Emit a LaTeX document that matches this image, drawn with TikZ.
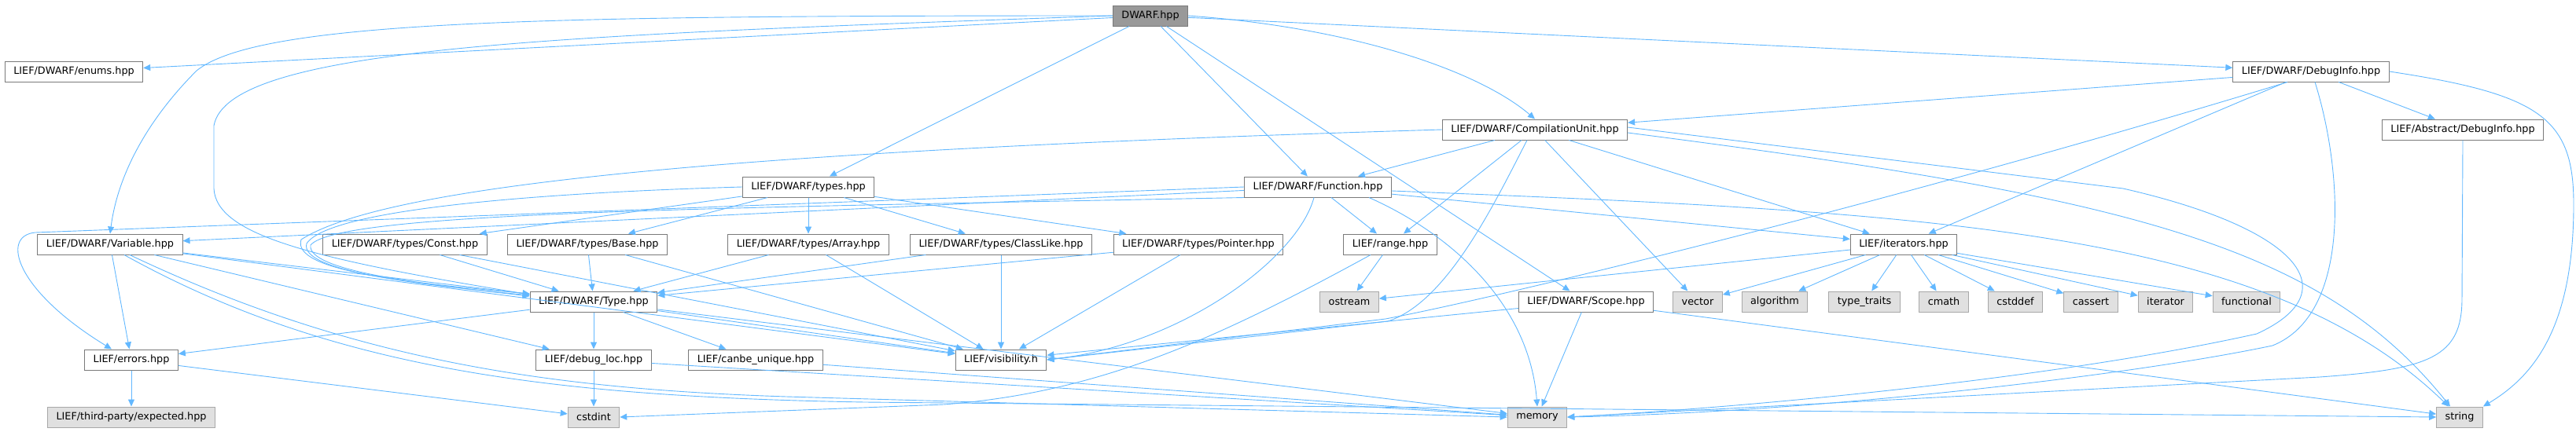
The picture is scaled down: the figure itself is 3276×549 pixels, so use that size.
\documentclass[tikz,border=0pt]{standalone}
\usepackage{fontspec}
\setmainfont{DejaVu Sans}
\usepackage{xcolor}
\usetikzlibrary{arrows.meta,positioning}
\definecolor{edgeblue}{HTML}{63B8FF}
\definecolor{nodeline}{HTML}{7A7A7A}
\definecolor{sysline}{HTML}{A8A8A8}
\definecolor{sysfill}{HTML}{E0E0E0}
\definecolor{rootfill}{HTML}{999999}

\begin{document}
\begin{tikzpicture}[
    x=1pt, y=-1pt,
    % LIEF headers
    file/.style={rectangle, draw=nodeline, fill=white, line width=1pt, minimum height=26pt, inner xsep=11pt, inner ysep=0pt, font=\fontsize{12.8}{15}\selectfont},
    % the documented file
    mainfile/.style={file, fill=rootfill},
    % standard library headers
    sys/.style={file, draw=sysline, fill=sysfill},
    % include edges
    dep/.style={->, >={Triangle[length=9pt,width=8pt]}, draw=edgeblue, line width=0.9pt}
]
\useasboundingbox (0,0) rectangle (3276,549);

% Top level
\node[mainfile] (root) at (1463,20) {DWARF.hpp};
\node[file] (enums) at (94,91) {LIEF/DWARF/enums.hpp};
\node[file] (dbginfo) at (2939,91) {LIEF/DWARF/DebugInfo.hpp};
\node[file] (cu) at (1952,165) {LIEF/DWARF/CompilationUnit.hpp};
\node[file] (absdbg) at (3132,165) {LIEF/Abstract/DebugInfo.hpp};
\node[file] (types) at (1028,238) {LIEF/DWARF/types.hpp};
\node[file] (func) at (1676,238) {LIEF/DWARF/Function.hpp};

% Middle row
\node[file] (var) at (140,311) {LIEF/DWARF/Variable.hpp};
\node[file] (tconst) at (515,311) {LIEF/DWARF/types/Const.hpp};
\node[file] (tbase) at (747,311) {LIEF/DWARF/types/Base.hpp};
\node[file] (tarray) at (1028,311) {LIEF/DWARF/types/Array.hpp};
\node[file] (tclass) at (1273,311) {LIEF/DWARF/types/ClassLike.hpp};
\node[file] (tptr) at (1524,311) {LIEF/DWARF/types/Pointer.hpp};
\node[file] (range) at (1768,311) {LIEF/range.hpp};
\node[file] (iters) at (2421,311) {LIEF/iterators.hpp};

\node[file] (type) at (755,384) {LIEF/DWARF/Type.hpp};
\node[sys] (ostream) at (1716,384) {ostream};
\node[file] (scope) at (2017,384) {LIEF/DWARF/Scope.hpp};
\node[sys] (vector) at (2159,384) {vector};
\node[sys] (algorithm) at (2257,384) {algorithm};
\node[sys] (typetraits) at (2371,384) {type\_traits};
\node[sys] (cmath) at (2472,384) {cmath};
\node[sys] (cstddef) at (2563,384) {cstddef};
\node[sys] (cassert) at (2659,384) {cassert};
\node[sys] (iterator) at (2754,384) {iterator};
\node[sys] (functional) at (2857,384) {functional};

% Bottom rows
\node[file] (errors) at (167,458) {LIEF/errors.hpp};
\node[file] (debugloc) at (755,458) {LIEF/debug\_loc.hpp};
\node[file] (canbe) at (961,458) {LIEF/canbe\_unique.hpp};
\node[file] (vis) at (1273,458) {LIEF/visibility.h};
\node[sys] (expected) at (167,531) {LIEF/third-party/expected.hpp};
\node[sys] (cstdint) at (755,531) {cstdint};
\node[sys] (memory) at (1955,531) {memory};
\node[sys] (string) at (3128,531) {string};

% DWARF.hpp
\draw[dep] (root) -- (enums);
\draw[dep] (root.west) .. controls (700,20) and (330,25) .. (250,90) .. controls (190,150) and (150,220) .. (var.north);
\draw[dep] (root.west) .. controls (700,45) and (290,60) .. (272,160) -- (272,240) .. controls (275,300) and (400,330) .. ([yshift=9pt]type.west);
\draw[dep] (root) -- (types);
\draw[dep] (root) -- (func);
\draw[dep] (root) -- (scope);
\draw[dep] (root.east) .. controls (1720,35) and (1880,90) .. (cu.north);
\draw[dep] (root) -- (dbginfo);

% DebugInfo.hpp
\draw[dep] (dbginfo) -- (cu);
\draw[dep] (dbginfo) -- (absdbg);
\draw[dep] (dbginfo) -- (iters);
\draw[dep] ([xshift=-30pt]dbginfo.south) .. controls (2400,260) and (1900,380) .. (1762,406) -- (vis.east);
\draw[dep] ([xshift=5pt]dbginfo.south) .. controls (2980,220) and (2990,400) .. (2890,440) .. controls (2700,480) and (2300,525) .. (memory.east);
\draw[dep] (dbginfo.east) .. controls (3230,120) and (3273,150) .. (3273,260) .. controls (3273,420) and (3220,480) .. (string.north east);
\draw[dep] (absdbg.south) -- (3131,380) .. controls (3131,455) and (3090,470) .. (2950,480) -- (memory.east);

% CompilationUnit.hpp
\draw[dep] (cu) -- (func);
\draw[dep] (cu.west) .. controls (1000,190) and (500,230) .. (383,305) .. controls (370,345) and (520,360) .. ([yshift=10pt]type.west);
\draw[dep] (cu) -- (range);
\draw[dep] ([xshift=-10pt]cu.south) .. controls (1900,260) and (1840,385) .. (1765,409) -- (vis.east);
\draw[dep] (cu) -- (vector);
\draw[dep] (cu) -- (iters);
\draw[dep] ([yshift=3pt]cu.east) -- (2700,240) .. controls (2920,290) and (2990,370) .. (2870,425) .. controls (2600,485) and (2200,520) .. (memory.east);
\draw[dep] ([yshift=-4pt]cu.east) .. controls (2700,250) and (2950,310) .. ([xshift=-12pt]string.north);

% Function.hpp
\draw[dep] (func) -- (var);
\draw[dep] (func.west) -- (45,296) .. controls (0,300) and (20,370) .. ([xshift=-25pt]errors.north);
\draw[dep] (func.south west) .. controls (900,265) and (430,270) .. (395,312) .. controls (390,345) and (540,362) .. ([yshift=7pt]type.west);
\draw[dep] (func) -- (range);
\draw[dep] (func) -- (iters);
\draw[dep] ([xshift=-5pt]func.south) .. controls (1650,330) and (1500,440) .. (vis.east);
\draw[dep] ([xshift=65pt]func.south) .. controls (1850,300) and (1945,390) .. (memory.north);
\draw[dep] ([yshift=-5pt]func.east) .. controls (2450,270) and (2880,290) .. ([xshift=-14pt]string.north);

% types.hpp
\draw[dep] (types) -- (tconst);
\draw[dep] (types) -- (tbase);
\draw[dep] (types) -- (tarray);
\draw[dep] (types) -- (tclass);
\draw[dep] (types) -- (tptr);
\draw[dep] (types.west) .. controls (700,245) and (420,265) .. (390,310) .. controls (380,345) and (530,362) .. ([yshift=8pt]type.west);

% Variable.hpp
\draw[dep] (var) -- (errors);
\draw[dep] (var) -- (type);
\draw[dep] (var) -- (debugloc);
\draw[dep] (var) -- (vis);
\draw[dep] ([xshift=25pt]var.south) .. controls (450,460) and (700,495) .. (1000,505) -- (memory.west);
\draw[dep] ([xshift=18pt]var.south) .. controls (420,470) and (700,505) .. (1100,512) -- (string.west);

% types/*.hpp
\draw[dep] (tconst) -- (type);
\draw[dep] (tconst) -- (vis);
\draw[dep] (tbase) -- (type);
\draw[dep] (tbase) -- (vis);
\draw[dep] (tarray) -- (type);
\draw[dep] (tarray) -- (vis);
\draw[dep] (tclass) -- (type);
\draw[dep] (tclass) -- (vis);
\draw[dep] (tptr) -- (type);
\draw[dep] (tptr) -- (vis);

% Type.hpp
\draw[dep] (type) -- (errors);
\draw[dep] (type) -- (debugloc);
\draw[dep] (type) -- (canbe);
\draw[dep] (type) -- (vis);
\draw[dep] (type) -- (memory);

% Scope.hpp
\draw[dep] (scope) -- (vis);
\draw[dep] (scope) -- (memory);
\draw[dep] (scope) -- (string);

% range.hpp
\draw[dep] (range) -- (ostream);
\draw[dep] ([xshift=-25pt]range.south) .. controls (1550,430) and (1400,500) .. (1200,515) -- (cstdint.east);

% iterators.hpp
\draw[dep] (iters) -- (ostream);
\draw[dep] (iters) -- (vector);
\draw[dep] (iters) -- (algorithm);
\draw[dep] (iters) -- (typetraits);
\draw[dep] (iters) -- (cmath);
\draw[dep] (iters) -- (cstddef);
\draw[dep] (iters) -- (cassert);
\draw[dep] (iters) -- (iterator);
\draw[dep] (iters) -- (functional);

% leaves
\draw[dep] (errors) -- (expected);
\draw[dep] (errors) -- (cstdint);
\draw[dep] (debugloc) -- (cstdint);
\draw[dep] (debugloc) -- (memory);
\draw[dep] (canbe) -- (memory);
\end{tikzpicture}
\end{document}
